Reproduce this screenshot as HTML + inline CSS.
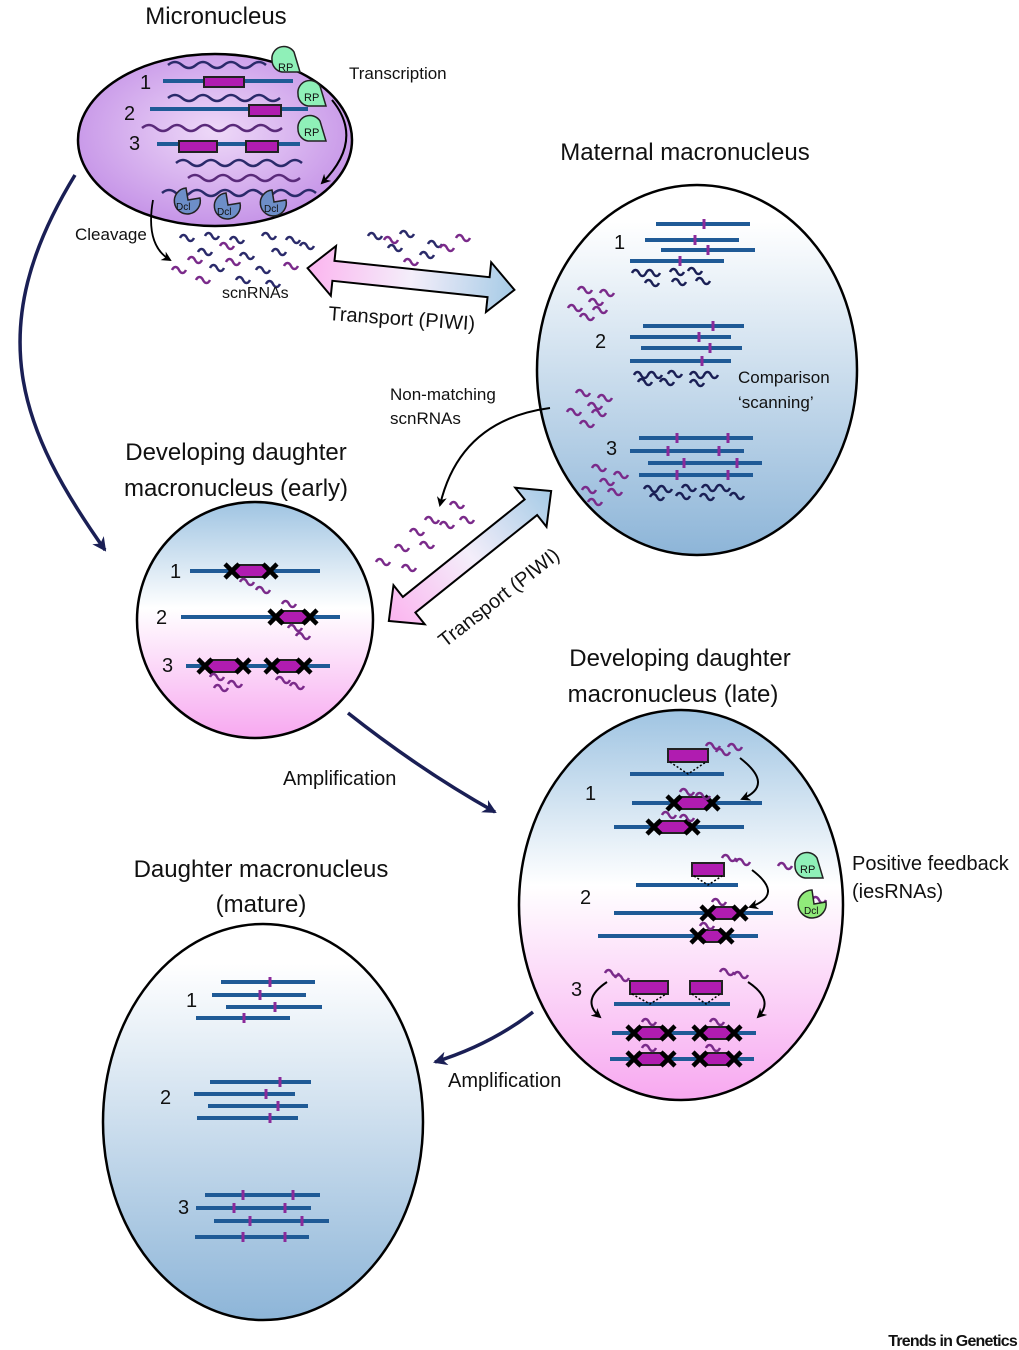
<!DOCTYPE html>
<html><head><meta charset="utf-8"><style>
html,body{margin:0;padding:0;background:#fff}
svg{display:block}
text{font-family:"Liberation Sans","DejaVu Sans",sans-serif;fill:#111}
</style></head><body>
<svg width="1019" height="1350" viewBox="0 0 1019 1350" xmlns="http://www.w3.org/2000/svg">
<defs>
<radialGradient id="gMic" cx="50%" cy="45%" r="60%"><stop offset="0" stop-color="#eed9f8"/><stop offset="1" stop-color="#c28ee6"/></radialGradient>
<linearGradient id="gWB" x1="0" y1="0" x2="0" y2="1"><stop offset="0.1" stop-color="#ffffff"/><stop offset="1" stop-color="#8db5d8"/></linearGradient>
<linearGradient id="gBP" x1="0" y1="0" x2="0" y2="1"><stop offset="0" stop-color="#9fc4e2"/><stop offset="0.45" stop-color="#ffffff"/><stop offset="1" stop-color="#f7a8f0"/></linearGradient>
<linearGradient id="gArr" x1="0" y1="0" x2="1" y2="0"><stop offset="0" stop-color="#fbb4ef"/><stop offset="0.5" stop-color="#f4eefa"/><stop offset="1" stop-color="#a6cbe6"/></linearGradient>
<marker id="mN" markerWidth="14" markerHeight="14" refX="12" refY="7" orient="auto" markerUnits="userSpaceOnUse"><path d="M0,0 L14,7 L0,14 L4,7z" fill="#1a1f55"/></marker>
<marker id="mB" markerWidth="10" markerHeight="10" refX="8" refY="5" orient="auto" markerUnits="userSpaceOnUse"><path d="M0,0 L10,5 L0,10 L3,5z" fill="#000"/></marker>
<symbol id="w" overflow="visible"><path d="M0,0 c2,-4 5,-4 7,0 s5,4 7,0" fill="none" stroke-width="2.5"/></symbol>
<symbol id="ww" overflow="visible"><path d="M0,0 c2,-4 5,-4 7,0 s5,4 7,0 s5,-4 7,0 s5,4 7,0" fill="none" stroke-width="2.5"/></symbol>
<symbol id="X" overflow="visible"><path d="M-7,-7 L7,7 M-7,7 L7,-7" stroke="#000" stroke-width="4.5"/></symbol>
</defs>

<!-- Micronucleus -->
<ellipse cx="215" cy="140" rx="137" ry="86" fill="url(#gMic)" stroke="#000" stroke-width="2.5"/>
<g fill="none" stroke-width="2.5">
<path d="M168,65 q7,-6 14,0 t14,0 t14,0 t14,0 t14,0 t14,0 t14,0" stroke="#2a2a6a"/>
<path d="M168,98 q7,-6 14,0 t14,0 t14,0 t14,0 t14,0 t14,0 t14,0 t14,0" stroke="#2a2a6a"/>
<path d="M142,128 q7,-6 14,0 t14,0 t14,0 t14,0 t14,0 t14,0 t14,0 t14,0 t14,0 t14,0" stroke="#5a2a7a"/>
<path d="M176,163 q7,-6 14,0 t14,0 t14,0 t14,0 t14,0 t14,0 t14,0 t14,0 t14,0" stroke="#2a2a6a"/>
<path d="M188,178 q7,-6 14,0 t14,0 t14,0 t14,0 t14,0 t14,0 t14,0 t14,0" stroke="#5a2a7a"/>
<path d="M162,193 q7,-6 14,0 t14,0 t14,0 t14,0 t14,0 t14,0 t14,0 t14,0 t14,0 t14,0 t14,0" stroke="#2a2a6a"/>
</g>
<g stroke="#1f5a96" stroke-width="4">
<line x1="163" y1="81" x2="293" y2="81"/><line x1="150" y1="109" x2="308" y2="109"/><line x1="157" y1="144" x2="300" y2="144"/>
</g>
<g fill="#b01cb0" stroke="#222" stroke-width="2">
<rect x="204" y="77" width="40" height="10"/><rect x="249" y="105" width="32" height="11"/><rect x="179" y="141" width="38" height="11"/><rect x="246" y="141" width="32" height="11"/>
</g>
<text x="140" y="89" font-size="20">1</text><text x="124" y="120" font-size="20">2</text><text x="129" y="150" font-size="20">3</text>
<g fill="#8ff0b8" stroke="#222" stroke-width="1.5">
<path d="M272,60 a12,12 0 0 1 22,-8 l6,20 l-18,0 a12,12 0 0 1 -10,-12z"/>
<path d="M298,94 a12,12 0 0 1 22,-8 l6,20 l-18,0 a12,12 0 0 1 -10,-12z"/>
<path d="M298,129 a12,12 0 0 1 22,-8 l6,20 l-18,0 a12,12 0 0 1 -10,-12z"/>
</g>
<text x="278" y="71" font-size="11">RP</text><text x="304" y="101" font-size="11">RP</text><text x="304" y="136" font-size="11">RP</text>
<g fill="#6d8ec8" stroke="#222" stroke-width="1.5">
<path d="M186,188 a13,13 0 1 0 14,10 l-12,2z"/><path d="M226,193 a13,13 0 1 0 14,10 l-12,2z"/><path d="M272,190 a13,13 0 1 0 14,10 l-12,2z"/>
</g>
<text x="176" y="210" font-size="10">Dcl</text><text x="217" y="215" font-size="10">Dcl</text><text x="264" y="212" font-size="10">Dcl</text>
<text x="349" y="79" font-size="17">Transcription</text>
<path d="M332,100 Q365,140 322,183" fill="none" stroke="#000" stroke-width="2" marker-end="url(#mB)"/>
<text x="75" y="240" font-size="17">Cleavage</text>
<path d="M153,200 Q145,245 170,260" fill="none" stroke="#000" stroke-width="1.8" marker-end="url(#mB)"/>
<g stroke="#2a2a6a"><use href="#w" x="180" y="238"/><use href="#w" x="205" y="236"/><use href="#w" x="230" y="240"/><use href="#w" x="262" y="236"/><use href="#w" x="286" y="240"/><use href="#w" x="198" y="252"/><use href="#w" x="240" y="256"/><use href="#w" x="272" y="252"/><use href="#w" x="300" y="246"/><use href="#w" x="210" y="268"/><use href="#w" x="256" y="270"/><use href="#w" x="236" y="280"/><use href="#w" x="266" y="284"/></g>
<g stroke="#7a2a8a"><use href="#w" x="220" y="246"/><use href="#w" x="188" y="260"/><use href="#w" x="226" y="262"/><use href="#w" x="172" y="270"/><use href="#w" x="196" y="280"/><use href="#w" x="284" y="266"/></g>
<text x="222" y="298" font-size="16">scnRNAs</text>
<g stroke="#2a2a6a"><use href="#w" x="368" y="236"/><use href="#w" x="400" y="234"/><use href="#w" x="428" y="244"/><use href="#w" x="388" y="248"/><use href="#w" x="420" y="255"/></g>
<g stroke="#7a2a8a"><use href="#w" x="384" y="240"/><use href="#w" x="456" y="238"/><use href="#w" x="404" y="262"/><use href="#w" x="440" y="248"/></g>

<g transform="translate(411,279) rotate(6)">
<polygon points="-104,0 -78,-25 -78,-10 78,-10 78,-25 104,0 78,25 78,10 -78,10 -78,25" fill="url(#gArr)" stroke="#000" stroke-width="2"/>
</g>
<text x="328" y="320" font-size="20" transform="rotate(4 328 320)">Transport (PIWI)</text>

<!-- Maternal macronucleus -->
<ellipse cx="697" cy="370" rx="160" ry="185" fill="url(#gWB)" stroke="#000" stroke-width="2.5"/>
<g stroke="#1f5a96" stroke-width="4">
<line x1="656" y1="224" x2="750" y2="224"/><line x1="645" y1="240" x2="739" y2="240"/><line x1="661" y1="250" x2="755" y2="250"/><line x1="630" y1="261" x2="724" y2="261"/>
<line x1="643" y1="326" x2="744" y2="326"/><line x1="630" y1="337" x2="731" y2="337"/><line x1="641" y1="348" x2="742" y2="348"/><line x1="630" y1="361" x2="731" y2="361"/>
<line x1="639" y1="438" x2="753" y2="438"/><line x1="630" y1="451" x2="744" y2="451"/><line x1="648" y1="463" x2="762" y2="463"/><line x1="639" y1="475" x2="753" y2="475"/>
</g>
<g stroke="#8a2a9a" stroke-width="3">
<line x1="704" y1="219" x2="704" y2="229"/><line x1="695" y1="235" x2="695" y2="245"/><line x1="708" y1="245" x2="708" y2="255"/><line x1="680" y1="256" x2="680" y2="266"/>
<line x1="713" y1="321" x2="713" y2="331"/><line x1="699" y1="332" x2="699" y2="342"/><line x1="710" y1="343" x2="710" y2="353"/><line x1="702" y1="356" x2="702" y2="366"/>
<line x1="677" y1="433" x2="677" y2="443"/><line x1="728" y1="433" x2="728" y2="443"/><line x1="668" y1="446" x2="668" y2="456"/><line x1="719" y1="446" x2="719" y2="456"/><line x1="684" y1="458" x2="684" y2="468"/><line x1="737" y1="458" x2="737" y2="468"/><line x1="677" y1="470" x2="677" y2="480"/><line x1="728" y1="470" x2="728" y2="480"/>
</g>
<text x="614" y="249" font-size="20">1</text><text x="595" y="348" font-size="20">2</text><text x="606" y="455" font-size="20">3</text>
<g stroke="#1a1f55"><use href="#ww" x="632" y="273"/><use href="#w" x="670" y="272"/><use href="#w" x="688" y="271"/><use href="#w" x="645" y="283"/><use href="#w" x="672" y="282"/><use href="#w" x="696" y="281"/>
<use href="#ww" x="634" y="375"/><use href="#w" x="668" y="374"/><use href="#ww" x="690" y="375"/><use href="#w" x="638" y="382"/><use href="#w" x="660" y="382"/><use href="#w" x="690" y="383"/>
<use href="#ww" x="644" y="489"/><use href="#w" x="682" y="488"/><use href="#ww" x="702" y="488"/><use href="#w" x="650" y="497"/><use href="#w" x="676" y="496"/><use href="#w" x="700" y="497"/><use href="#w" x="730" y="496"/></g>
<g stroke="#7a2a8a"><use href="#w" x="578" y="290"/><use href="#w" x="600" y="293"/><use href="#w" x="589" y="302"/><use href="#w" x="568" y="308"/><use href="#w" x="593" y="310"/><use href="#w" x="580" y="317"/>
<use href="#w" x="576" y="393"/><use href="#w" x="598" y="398"/><use href="#w" x="588" y="406"/><use href="#w" x="567" y="412"/><use href="#w" x="592" y="413"/><use href="#w" x="580" y="424"/>
<use href="#w" x="592" y="468"/><use href="#w" x="614" y="475"/><use href="#w" x="600" y="482"/><use href="#w" x="582" y="490"/><use href="#w" x="608" y="492"/><use href="#w" x="588" y="502"/></g>
<text x="738" y="383" font-size="17">Comparison</text><text x="738" y="408" font-size="17">‘scanning’</text>
<text x="390" y="400" font-size="17">Non-matching</text><text x="390" y="424" font-size="17">scnRNAs</text>
<path d="M550,408 Q460,420 440,505" fill="none" stroke="#000" stroke-width="2" marker-end="url(#mB)"/>
<g stroke="#7a2a8a"><use href="#w" x="425" y="520"/><use href="#w" x="450" y="505"/><use href="#w" x="410" y="532"/><use href="#w" x="440" y="525"/><use href="#w" x="460" y="520"/><use href="#w" x="395" y="548"/><use href="#w" x="420" y="545"/><use href="#w" x="376" y="562"/><use href="#w" x="402" y="568"/></g>

<g transform="translate(470,556) rotate(-38.7)">
<polygon points="-104,0 -78,-25 -78,-10 78,-10 78,-25 104,0 78,25 78,10 -78,10 -78,25" fill="url(#gArr)" stroke="#000" stroke-width="2"/>
</g>
<text x="445" y="648" font-size="20" transform="rotate(-38 445 648)">Transport (PIWI)</text>

<!-- Early daughter -->
<ellipse cx="255" cy="620" rx="118" ry="118" fill="url(#gBP)" stroke="#000" stroke-width="2.5"/>
<g stroke="#1f5a96" stroke-width="4"><line x1="190" y1="571" x2="320" y2="571"/><line x1="181" y1="617" x2="340" y2="617"/><line x1="186" y1="666" x2="330" y2="666"/></g>
<g fill="#b01cb0" stroke="#222" stroke-width="2"><polygon points="230,571 236,565 266,565 272,571 266,577 236,577"/><polygon points="274,617 280,611 306,611 312,617 306,623 280,623"/><polygon points="203,666 209,660 239,660 245,666 239,672 209,672"/><polygon points="270,666 276,660 300,660 306,666 300,672 276,672"/></g>
<g><use href="#X" x="232" y="571"/><use href="#X" x="270" y="571"/><use href="#X" x="276" y="617"/><use href="#X" x="310" y="617"/><use href="#X" x="205" y="666"/><use href="#X" x="243" y="666"/><use href="#X" x="272" y="666"/><use href="#X" x="304" y="666"/></g>
<g stroke="#7a2a8a"><use href="#w" x="240" y="582"/><use href="#w" x="256" y="590"/><use href="#w" x="282" y="604"/><use href="#w" x="288" y="628"/><use href="#w" x="296" y="636"/><use href="#w" x="210" y="677"/><use href="#w" x="228" y="684"/><use href="#w" x="214" y="688"/><use href="#w" x="276" y="680"/><use href="#w" x="290" y="686"/></g>
<text x="170" y="578" font-size="20">1</text><text x="156" y="624" font-size="20">2</text><text x="162" y="672" font-size="20">3</text>

<path d="M75,175 C-20,330 20,430 105,550" fill="none" stroke="#1a1f55" stroke-width="3.5" marker-end="url(#mN)"/>
<path d="M348,713 Q420,770 495,812" fill="none" stroke="#1a1f55" stroke-width="3.5" marker-end="url(#mN)"/>
<path d="M533,1012 Q490,1045 435,1062" fill="none" stroke="#1a1f55" stroke-width="3.5" marker-end="url(#mN)"/>
<text x="283" y="785" font-size="20">Amplification</text>
<text x="448" y="1087" font-size="20">Amplification</text>

<!-- Late daughter -->
<ellipse cx="681" cy="905" rx="162" ry="195" fill="url(#gBP)" stroke="#000" stroke-width="2.5"/>
<g stroke="#1f5a96" stroke-width="4">
<line x1="630" y1="774" x2="724" y2="774"/><line x1="632" y1="803" x2="762" y2="803"/><line x1="614" y1="827" x2="744" y2="827"/>
<line x1="636" y1="885" x2="738" y2="885"/><line x1="614" y1="913" x2="773" y2="913"/><line x1="598" y1="936" x2="758" y2="936"/>
<line x1="614" y1="1004" x2="730" y2="1004"/><line x1="612" y1="1033" x2="756" y2="1033"/><line x1="610" y1="1059" x2="754" y2="1059"/>
</g>
<g fill="#b01cb0" stroke="#222" stroke-width="2">
<rect x="668" y="749" width="40" height="13"/><rect x="692" y="863" width="32" height="13"/><rect x="630" y="981" width="38" height="13"/><rect x="690" y="981" width="32" height="13"/>
<polygon points="672,803 678,797 708,797 714,803 708,809 678,809"/><polygon points="652,827 658,821 688,821 694,827 688,833 658,833"/>
<polygon points="706,913 712,907 734,907 740,913 734,919 712,919"/><polygon points="696,936 702,930 722,930 728,936 722,942 702,942"/>
<polygon points="632,1033 638,1027 664,1027 670,1033 664,1039 638,1039"/><polygon points="698,1033 704,1027 728,1027 734,1033 728,1039 704,1039"/>
<polygon points="632,1059 638,1053 664,1053 670,1059 664,1065 638,1065"/><polygon points="698,1059 704,1053 728,1053 734,1059 728,1065 704,1065"/>
</g>
<g stroke="#000" stroke-width="1.5" stroke-dasharray="2,2" fill="none"><path d="M670,762 L688,774 L706,762"/><path d="M694,876 L708,885 L722,876"/><path d="M632,994 L650,1004 L666,994"/><path d="M692,994 L706,1004 L720,994"/></g>
<g><use href="#X" x="674" y="803"/><use href="#X" x="712" y="803"/><use href="#X" x="654" y="827"/><use href="#X" x="692" y="827"/><use href="#X" x="708" y="913"/><use href="#X" x="740" y="913"/><use href="#X" x="698" y="936"/><use href="#X" x="726" y="936"/>
<use href="#X" x="634" y="1033"/><use href="#X" x="668" y="1033"/><use href="#X" x="700" y="1033"/><use href="#X" x="734" y="1033"/><use href="#X" x="634" y="1059"/><use href="#X" x="668" y="1059"/><use href="#X" x="700" y="1059"/><use href="#X" x="734" y="1059"/></g>
<g stroke="#7a2a8a"><use href="#w" x="706" y="746"/><use href="#w" x="716" y="752"/><use href="#w" x="728" y="747"/><use href="#w" x="680" y="792"/><use href="#w" x="696" y="796"/><use href="#w" x="662" y="815"/><use href="#w" x="680" y="818"/>
<use href="#w" x="722" y="858"/><use href="#w" x="736" y="862"/><use href="#w" x="712" y="902"/><use href="#w" x="700" y="926"/><use href="#w" x="778" y="866"/><use href="#w" x="812" y="900"/>
<use href="#w" x="605" y="973"/><use href="#w" x="615" y="978"/><use href="#w" x="720" y="972"/><use href="#w" x="734" y="975"/><use href="#w" x="642" y="1022"/><use href="#w" x="710" y="1022"/><use href="#w" x="642" y="1048"/><use href="#w" x="706" y="1048"/></g>
<g fill="none" stroke="#000" stroke-width="2">
<path d="M740,758 Q775,785 742,799" marker-end="url(#mB)"/><path d="M752,870 Q785,895 750,907" marker-end="url(#mB)"/>
<path d="M607,982 Q580,1000 600,1017" marker-end="url(#mB)"/><path d="M748,982 Q775,1000 758,1017" marker-end="url(#mB)"/>
</g>
<text x="585" y="800" font-size="20">1</text><text x="580" y="904" font-size="20">2</text><text x="571" y="996" font-size="20">3</text>
<path d="M795,866 a12,12 0 0 1 22,-8 l6,20 l-18,0 a12,12 0 0 1 -10,-12z" fill="#8ff0b8" stroke="#222" stroke-width="1.5"/>
<text x="800" y="873" font-size="11">RP</text>
<path d="M812,890 a14,14 0 1 0 14,12 l-12,2z" fill="#90ea7a" stroke="#222" stroke-width="1.5"/>
<text x="804" y="914" font-size="10">Dcl</text>
<text x="852" y="870" font-size="20">Positive feedback</text><text x="852" y="898" font-size="20">(iesRNAs)</text>

<!-- Mature -->
<ellipse cx="263" cy="1122" rx="160" ry="198" fill="url(#gWB)" stroke="#000" stroke-width="2.5"/>
<g stroke="#1f5a96" stroke-width="4">
<line x1="221" y1="982" x2="315" y2="982"/><line x1="212" y1="995" x2="306" y2="995"/><line x1="226" y1="1007" x2="322" y2="1007"/><line x1="196" y1="1018" x2="290" y2="1018"/>
<line x1="210" y1="1082" x2="311" y2="1082"/><line x1="194" y1="1094" x2="295" y2="1094"/><line x1="208" y1="1106" x2="308" y2="1106"/><line x1="197" y1="1118" x2="298" y2="1118"/>
<line x1="205" y1="1195" x2="320" y2="1195"/><line x1="196" y1="1208" x2="311" y2="1208"/><line x1="214" y1="1221" x2="329" y2="1221"/><line x1="195" y1="1237" x2="309" y2="1237"/>
</g>
<g stroke="#8a2a9a" stroke-width="3">
<line x1="270" y1="977" x2="270" y2="987"/><line x1="260" y1="990" x2="260" y2="1000"/><line x1="275" y1="1002" x2="275" y2="1012"/><line x1="244" y1="1013" x2="244" y2="1023"/>
<line x1="280" y1="1077" x2="280" y2="1087"/><line x1="266" y1="1089" x2="266" y2="1099"/><line x1="278" y1="1101" x2="278" y2="1111"/><line x1="270" y1="1113" x2="270" y2="1123"/>
<line x1="243" y1="1190" x2="243" y2="1200"/><line x1="293" y1="1190" x2="293" y2="1200"/><line x1="234" y1="1203" x2="234" y2="1213"/><line x1="285" y1="1203" x2="285" y2="1213"/><line x1="250" y1="1216" x2="250" y2="1226"/><line x1="302" y1="1216" x2="302" y2="1226"/><line x1="243" y1="1232" x2="243" y2="1242"/><line x1="285" y1="1232" x2="285" y2="1242"/>
</g>
<text x="186" y="1007" font-size="20">1</text><text x="160" y="1104" font-size="20">2</text><text x="178" y="1214" font-size="20">3</text>

<!-- Titles (on top) -->
<text x="216" y="24" font-size="24" text-anchor="middle">Micronucleus</text>
<text x="685" y="160" font-size="24" text-anchor="middle">Maternal macronucleus</text>
<text x="236" y="460" font-size="24" text-anchor="middle">Developing daughter</text>
<text x="236" y="496" font-size="24" text-anchor="middle">macronucleus (early)</text>
<text x="680" y="666" font-size="24" text-anchor="middle">Developing daughter</text>
<text x="673" y="702" font-size="24" text-anchor="middle">macronucleus (late)</text>
<text x="261" y="877" font-size="24" text-anchor="middle">Daughter macronucleus</text>
<text x="261" y="912" font-size="24" text-anchor="middle">(mature)</text>

<text x="1017" y="1346" font-size="16" font-weight="bold" text-anchor="end" letter-spacing="-0.8">Trends in Genetics</text>
</svg>
</body></html>
